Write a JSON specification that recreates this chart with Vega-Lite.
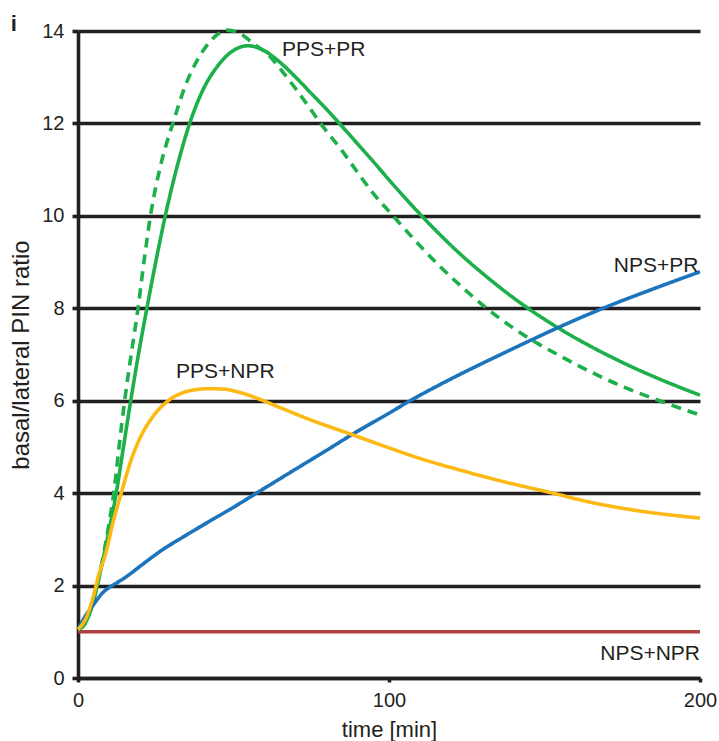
{
  "$schema": "https://vega.github.io/schema/vega-lite/v6.json",
  "width": 622,
  "height": 647,
  "autosize": {"type": "none"},
  "padding": {"left": 78, "top": 31, "right": 19, "bottom": 63},
  "background": "white",
  "config": {"view": {"stroke": null}, "font": "Liberation Sans"},
  "title": {"text": "i", "anchor": "start", "frame": "bounds", "fontSize": 22, "fontWeight": "bold", "color": "#231F20", "baseline": "alphabetic", "offset": -7, "dy": 25, "dx": 1},
  "datasets": {
    "curves": [
      {"series": "NPS+NPR", "t": 0, "ratio": 1.0},
      {"series": "NPS+NPR", "t": 200, "ratio": 1.0},

      {"series": "PPS+PR dashed", "t": 0, "ratio": 1.05},
      {"series": "PPS+PR dashed", "t": 2, "ratio": 1.15},
      {"series": "PPS+PR dashed", "t": 4, "ratio": 1.45},
      {"series": "PPS+PR dashed", "t": 6, "ratio": 1.95},
      {"series": "PPS+PR dashed", "t": 8, "ratio": 2.6},
      {"series": "PPS+PR dashed", "t": 10, "ratio": 3.35},
      {"series": "PPS+PR dashed", "t": 11.5, "ratio": 4.0},
      {"series": "PPS+PR dashed", "t": 13.2, "ratio": 5.0},
      {"series": "PPS+PR dashed", "t": 15, "ratio": 6.0},
      {"series": "PPS+PR dashed", "t": 17.1, "ratio": 7.0},
      {"series": "PPS+PR dashed", "t": 19.3, "ratio": 8.0},
      {"series": "PPS+PR dashed", "t": 21.2, "ratio": 9.0},
      {"series": "PPS+PR dashed", "t": 23.3, "ratio": 10.0},
      {"series": "PPS+PR dashed", "t": 26.6, "ratio": 11.1},
      {"series": "PPS+PR dashed", "t": 30.5, "ratio": 12.0},
      {"series": "PPS+PR dashed", "t": 35, "ratio": 12.9},
      {"series": "PPS+PR dashed", "t": 40, "ratio": 13.55},
      {"series": "PPS+PR dashed", "t": 44, "ratio": 13.88},
      {"series": "PPS+PR dashed", "t": 48, "ratio": 14.02},
      {"series": "PPS+PR dashed", "t": 52, "ratio": 13.95},
      {"series": "PPS+PR dashed", "t": 56, "ratio": 13.75},
      {"series": "PPS+PR dashed", "t": 61.7, "ratio": 13.45},
      {"series": "PPS+PR dashed", "t": 66, "ratio": 13.1},
      {"series": "PPS+PR dashed", "t": 70, "ratio": 12.75},
      {"series": "PPS+PR dashed", "t": 74, "ratio": 12.38},
      {"series": "PPS+PR dashed", "t": 78, "ratio": 12.0},
      {"series": "PPS+PR dashed", "t": 85, "ratio": 11.4},
      {"series": "PPS+PR dashed", "t": 90, "ratio": 10.93},
      {"series": "PPS+PR dashed", "t": 95, "ratio": 10.48},
      {"series": "PPS+PR dashed", "t": 101.3, "ratio": 10.0},
      {"series": "PPS+PR dashed", "t": 110, "ratio": 9.35},
      {"series": "PPS+PR dashed", "t": 116, "ratio": 8.93},
      {"series": "PPS+PR dashed", "t": 122.8, "ratio": 8.5},
      {"series": "PPS+PR dashed", "t": 131.4, "ratio": 8.0},
      {"series": "PPS+PR dashed", "t": 140, "ratio": 7.57},
      {"series": "PPS+PR dashed", "t": 147, "ratio": 7.27},
      {"series": "PPS+PR dashed", "t": 155, "ratio": 6.97},
      {"series": "PPS+PR dashed", "t": 165, "ratio": 6.62},
      {"series": "PPS+PR dashed", "t": 174.3, "ratio": 6.33},
      {"series": "PPS+PR dashed", "t": 187, "ratio": 6.0},
      {"series": "PPS+PR dashed", "t": 200, "ratio": 5.69},

      {"series": "PPS+PR", "t": 0, "ratio": 1.05},
      {"series": "PPS+PR", "t": 2, "ratio": 1.15},
      {"series": "PPS+PR", "t": 4, "ratio": 1.45},
      {"series": "PPS+PR", "t": 6, "ratio": 1.95},
      {"series": "PPS+PR", "t": 8, "ratio": 2.55},
      {"series": "PPS+PR", "t": 10, "ratio": 3.2},
      {"series": "PPS+PR", "t": 12.3, "ratio": 4.0},
      {"series": "PPS+PR", "t": 14.5, "ratio": 4.95},
      {"series": "PPS+PR", "t": 16.6, "ratio": 5.85},
      {"series": "PPS+PR", "t": 19.3, "ratio": 6.95},
      {"series": "PPS+PR", "t": 22, "ratio": 7.95},
      {"series": "PPS+PR", "t": 25, "ratio": 9.0},
      {"series": "PPS+PR", "t": 27.9, "ratio": 9.95},
      {"series": "PPS+PR", "t": 32, "ratio": 11.1},
      {"series": "PPS+PR", "t": 35.9, "ratio": 12.0},
      {"series": "PPS+PR", "t": 40, "ratio": 12.7},
      {"series": "PPS+PR", "t": 45, "ratio": 13.25},
      {"series": "PPS+PR", "t": 50, "ratio": 13.58},
      {"series": "PPS+PR", "t": 54.7, "ratio": 13.68},
      {"series": "PPS+PR", "t": 60, "ratio": 13.57},
      {"series": "PPS+PR", "t": 65, "ratio": 13.32},
      {"series": "PPS+PR", "t": 70, "ratio": 13.0},
      {"series": "PPS+PR", "t": 75, "ratio": 12.65},
      {"series": "PPS+PR", "t": 80, "ratio": 12.3},
      {"series": "PPS+PR", "t": 85, "ratio": 11.93},
      {"series": "PPS+PR", "t": 90, "ratio": 11.55},
      {"series": "PPS+PR", "t": 95, "ratio": 11.17},
      {"series": "PPS+PR", "t": 100, "ratio": 10.78},
      {"series": "PPS+PR", "t": 105, "ratio": 10.4},
      {"series": "PPS+PR", "t": 110.5, "ratio": 10.0},
      {"series": "PPS+PR", "t": 116, "ratio": 9.62},
      {"series": "PPS+PR", "t": 122.8, "ratio": 9.18},
      {"series": "PPS+PR", "t": 130, "ratio": 8.76},
      {"series": "PPS+PR", "t": 137, "ratio": 8.38},
      {"series": "PPS+PR", "t": 144.7, "ratio": 8.0},
      {"series": "PPS+PR", "t": 154.3, "ratio": 7.58},
      {"series": "PPS+PR", "t": 165, "ratio": 7.17},
      {"series": "PPS+PR", "t": 175, "ratio": 6.83},
      {"series": "PPS+PR", "t": 188, "ratio": 6.44},
      {"series": "PPS+PR", "t": 200, "ratio": 6.12},

      {"series": "NPS+PR", "t": 0, "ratio": 1.05},
      {"series": "NPS+PR", "t": 2, "ratio": 1.3},
      {"series": "NPS+PR", "t": 4.9, "ratio": 1.58},
      {"series": "NPS+PR", "t": 8, "ratio": 1.85},
      {"series": "NPS+PR", "t": 10.3, "ratio": 1.97},
      {"series": "NPS+PR", "t": 12.5, "ratio": 2.06},
      {"series": "NPS+PR", "t": 15.7, "ratio": 2.2},
      {"series": "NPS+PR", "t": 20, "ratio": 2.42},
      {"series": "NPS+PR", "t": 26.4, "ratio": 2.74},
      {"series": "NPS+PR", "t": 35, "ratio": 3.1},
      {"series": "NPS+PR", "t": 42, "ratio": 3.38},
      {"series": "NPS+PR", "t": 48.9, "ratio": 3.65},
      {"series": "NPS+PR", "t": 57.4, "ratio": 4.0},
      {"series": "NPS+PR", "t": 70, "ratio": 4.52},
      {"series": "NPS+PR", "t": 80, "ratio": 4.93},
      {"series": "NPS+PR", "t": 88.4, "ratio": 5.28},
      {"series": "NPS+PR", "t": 100, "ratio": 5.73},
      {"series": "NPS+PR", "t": 106.8, "ratio": 6.0},
      {"series": "NPS+PR", "t": 115, "ratio": 6.3},
      {"series": "NPS+PR", "t": 122.8, "ratio": 6.57},
      {"series": "NPS+PR", "t": 135, "ratio": 6.97},
      {"series": "NPS+PR", "t": 145, "ratio": 7.29},
      {"series": "NPS+PR", "t": 154.3, "ratio": 7.58},
      {"series": "NPS+PR", "t": 168.8, "ratio": 8.0},
      {"series": "NPS+PR", "t": 185, "ratio": 8.42},
      {"series": "NPS+PR", "t": 200, "ratio": 8.79},

      {"series": "PPS+NPR", "t": 0, "ratio": 1.05},
      {"series": "PPS+NPR", "t": 2.8, "ratio": 1.33},
      {"series": "PPS+NPR", "t": 4.9, "ratio": 1.76},
      {"series": "PPS+NPR", "t": 6.5, "ratio": 2.19},
      {"series": "PPS+NPR", "t": 9.2, "ratio": 2.77},
      {"series": "PPS+NPR", "t": 11, "ratio": 3.3},
      {"series": "PPS+NPR", "t": 13.9, "ratio": 4.0},
      {"series": "PPS+NPR", "t": 17, "ratio": 4.7},
      {"series": "PPS+NPR", "t": 20, "ratio": 5.2},
      {"series": "PPS+NPR", "t": 24, "ratio": 5.65},
      {"series": "PPS+NPR", "t": 29, "ratio": 6.0},
      {"series": "PPS+NPR", "t": 34, "ratio": 6.18},
      {"series": "PPS+NPR", "t": 38, "ratio": 6.24},
      {"series": "PPS+NPR", "t": 42, "ratio": 6.26},
      {"series": "PPS+NPR", "t": 47, "ratio": 6.25},
      {"series": "PPS+NPR", "t": 52, "ratio": 6.18},
      {"series": "PPS+NPR", "t": 59.6, "ratio": 6.0},
      {"series": "PPS+NPR", "t": 65, "ratio": 5.85},
      {"series": "PPS+NPR", "t": 75, "ratio": 5.58},
      {"series": "PPS+NPR", "t": 88.4, "ratio": 5.26},
      {"series": "PPS+NPR", "t": 100, "ratio": 4.98},
      {"series": "PPS+NPR", "t": 110, "ratio": 4.75},
      {"series": "PPS+NPR", "t": 122.8, "ratio": 4.5},
      {"series": "PPS+NPR", "t": 135, "ratio": 4.28},
      {"series": "PPS+NPR", "t": 152.7, "ratio": 4.0},
      {"series": "PPS+NPR", "t": 165, "ratio": 3.8},
      {"series": "PPS+NPR", "t": 180, "ratio": 3.62},
      {"series": "PPS+NPR", "t": 200, "ratio": 3.46}
    ],
    "labelsLeft": [
      {"label": "PPS+PR", "t": 65.6, "ratio": 13.46},
      {"label": "PPS+NPR", "t": 31.5, "ratio": 6.5}
    ],
    "labelsRight": [
      {"label": "NPS+PR", "t": 199.5, "ratio": 8.78},
      {"label": "NPS+NPR", "t": 200, "ratio": 0.39}
    ]
  },
  "encoding": {
    "x": {
      "field": "t", "type": "quantitative",
      "scale": {"domain": [0, 200], "nice": false, "zero": false},
      "axis": {
        "values": [0, 100, 200], "grid": false,
        "title": "time [min]", "titleFontSize": 22, "titleFontWeight": "normal", "titleColor": "#231F20", "titlePadding": 9,
        "labelFontSize": 20, "labelColor": "#231F20", "labelPadding": 8, "labelFlush": false,
        "domainColor": "#231F20", "domainWidth": 3.6,
        "ticks": true, "tickSize": 4, "tickWidth": 3.6, "tickColor": "#231F20"
      }
    },
    "y": {
      "field": "ratio", "type": "quantitative",
      "scale": {"domain": [0, 14], "nice": false, "zero": false},
      "axis": {
        "values": [0, 2, 4, 6, 8, 10, 12, 14], "grid": true,
        "gridColor": "#231F20", "gridWidth": 3.6, "gridOpacity": 1,
        "title": "basal/lateral PIN ratio", "titleFontSize": 24, "titleFontWeight": "normal", "titleColor": "#231F20", "titlePadding": 8,
        "labelFontSize": 20, "labelColor": "#231F20", "labelPadding": 8,
        "domainColor": "#231F20", "domainWidth": 3.6,
        "ticks": true, "tickSize": 6, "tickWidth": 3.6, "tickColor": "#231F20"
      }
    }
  },
  "layer": [
    {
      "data": {"name": "curves"},
      "mark": {"type": "line", "strokeWidth": 3.6, "interpolate": "monotone", "clip": false},
      "encoding": {
        "color": {
          "field": "series", "type": "nominal", "legend": null,
          "scale": {"domain": ["NPS+NPR", "PPS+PR dashed", "PPS+PR", "NPS+PR", "PPS+NPR"],
                    "range": ["#B0413E", "#1DB04A", "#1DB04A", "#1C75BC", "#FDB913"]}
        },
        "strokeDash": {
          "field": "series", "type": "nominal", "legend": null,
          "scale": {"domain": ["NPS+NPR", "PPS+PR dashed", "PPS+PR", "NPS+PR", "PPS+NPR"],
                    "range": [[1, 0], [10, 7], [1, 0], [1, 0], [1, 0]]}
        }
      }
    },
    {
      "data": {"name": "labelsLeft"},
      "mark": {"type": "text", "align": "left", "baseline": "alphabetic", "fontSize": 21, "color": "#231F20"},
      "encoding": {"text": {"field": "label"}}
    },
    {
      "data": {"name": "labelsRight"},
      "mark": {"type": "text", "align": "right", "baseline": "alphabetic", "fontSize": 21, "color": "#231F20"},
      "encoding": {"text": {"field": "label"}}
    }
  ]
}
